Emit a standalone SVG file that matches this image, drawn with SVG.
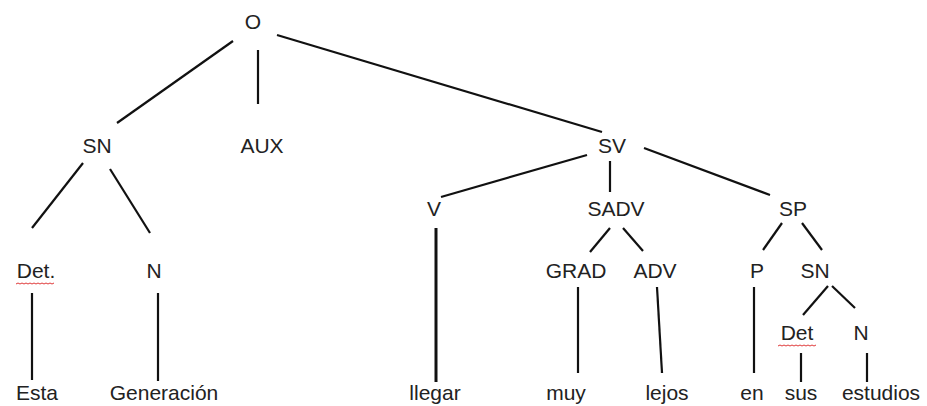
<svg xmlns="http://www.w3.org/2000/svg" width="927" height="406" viewBox="0 0 927 406">
<style>
text{font-family:"Liberation Sans",Arial,sans-serif;font-size:21px;fill:#222;text-anchor:middle}
.e line{stroke:#111;stroke-width:2.2;stroke-linecap:butt}
.sq{fill:none;stroke:#e03a3a;stroke-width:1}
</style>
<rect width="927" height="406" fill="#fff"/>
<g class="e" id="connectors">
<line x1="233" y1="41" x2="117" y2="123"/>
<line x1="258" y1="50" x2="258" y2="104"/>
<line x1="277" y1="35" x2="602" y2="132"/>
<line x1="83" y1="163" x2="32" y2="228"/>
<line x1="110" y1="169" x2="150" y2="233"/>
<line x1="587" y1="155" x2="441" y2="197"/>
<line x1="610" y1="161" x2="610" y2="192"/>
<line x1="644" y1="148" x2="770" y2="195"/>
<line x1="32" y1="293" x2="32" y2="380"/>
<line x1="158" y1="293" x2="158" y2="381"/>
<line x1="436" y1="228" x2="436" y2="382" style="stroke-width:3"/>
<line x1="610" y1="228" x2="590" y2="252"/>
<line x1="623" y1="228" x2="643" y2="251"/>
<line x1="782" y1="223" x2="763" y2="250"/>
<line x1="802" y1="223" x2="822" y2="250"/>
<line x1="578" y1="287" x2="578" y2="373"/>
<line x1="657" y1="287" x2="662" y2="373"/>
<line x1="754" y1="287" x2="754" y2="373"/>
<line x1="828" y1="286" x2="803" y2="315"/>
<line x1="832" y1="286" x2="855" y2="308"/>
<line x1="801" y1="353" x2="801" y2="382"/>
<line x1="867" y1="353" x2="867" y2="382"/>
</g>
<g id="O"><text x="253" y="29">O</text></g>
<g id="SN1"><text x="97" y="153">SN</text></g>
<g id="AUX"><text x="262" y="153">AUX</text></g>
<g id="SV"><text x="612" y="153">SV</text></g>
<g id="Det1"><text x="36" y="278">Det.</text><path class="sq" d="M16 284 l2 -1 l2 1 l2 -1 l2 1 l2 -1 l2 1 l2 -1 l2 1 l2 -1 l2 1 l2 -1 l2 1 l2 -1 l2 1 l2 -1 l2 1 l2 -1 l2 1 l2 -1"/></g>
<g id="N1"><text x="154" y="278">N</text></g>
<g id="V"><text x="434" y="216">V</text></g>
<g id="SADV"><text x="616" y="216">SADV</text></g>
<g id="SP"><text x="793" y="216">SP</text></g>
<g id="GRAD"><text x="576" y="278">GRAD</text></g>
<g id="ADV"><text x="655" y="278">ADV</text></g>
<g id="P"><text x="757" y="278">P</text></g>
<g id="SN2"><text x="815" y="278">SN</text></g>
<g id="Det2"><text x="797" y="340">Det</text><path class="sq" d="M778 346 l2 -1 l2 1 l2 -1 l2 1 l2 -1 l2 1 l2 -1 l2 1 l2 -1 l2 1 l2 -1 l2 1 l2 -1 l2 1 l2 -1 l2 1 l2 -1 l2 1 l2 -1"/></g>
<g id="N2"><text x="861" y="340">N</text></g>
<g id="Esta"><text x="37" y="400">Esta</text></g>
<g id="Generacion"><text x="164" y="400">Generación</text></g>
<g id="llegar"><text x="435" y="400">llegar</text></g>
<g id="muy"><text x="566" y="400">muy</text></g>
<g id="lejos"><text x="667" y="400">lejos</text></g>
<g id="en"><text x="752" y="400">en</text></g>
<g id="sus"><text x="801" y="400">sus</text></g>
<g id="estudios"><text x="881" y="400">estudios</text></g>
</svg>
